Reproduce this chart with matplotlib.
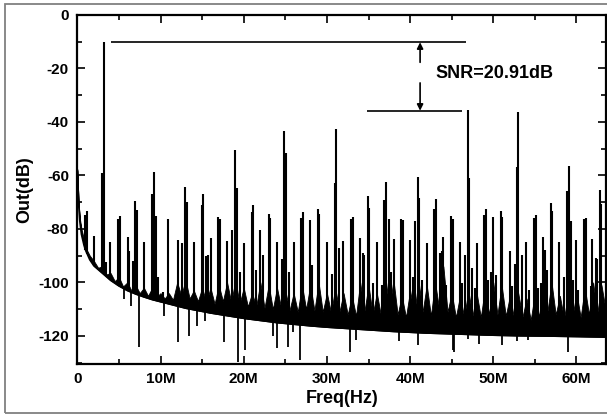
"""Output spectrum with SNR annotation."""
import numpy as np
import matplotlib; matplotlib.use("Agg")
import matplotlib.pyplot as plt
from matplotlib.patches import Rectangle
from matplotlib.ticker import MultipleLocator

plt.rcParams["font.family"] = ["Liberation Sans", "DejaVu Sans"]
plt.rcParams["font.weight"] = "bold"
plt.rcParams["axes.unicode_minus"] = False

# noise floor (MHz, dB)
FLOOR_F = [0, 0.15, 0.3, 0.5, 0.8, 1, 1.5, 2, 3, 4, 5, 6, 7, 8, 9, 10, 11, 12, 13, 14, 15,
           16, 18, 20, 22, 24, 26, 28, 30, 32, 34, 36, 38, 40, 42, 44, 46, 48, 50, 53, 56,
           60, 63.6]
FLOOR_DB = [-58, -70, -77, -82, -86, -88, -91.5, -93.8, -96.5, -99.2, -101.3, -103, -104.3,
            -105.4, -106.4, -107.2, -108, -108.8, -109.6, -110.2, -110.8, -111.4, -112.4,
            -113.4, -114.2, -115, -115.6, -116.2, -116.7, -117.1, -117.5, -117.9, -118.3,
            -118.6, -118.9, -119.1, -119.3, -119.5, -119.7, -119.9, -120, -120.2, -120.4]

# ragged top of the dense "grass" band (MHz, dB)
GRASS_F = [0, 0.15, 0.3, 0.5, 0.8, 1, 1.5, 2, 2.5, 3, 3.5, 4, 4.5, 5, 5.5, 6, 6.5, 7, 7.5,
           8, 8.5, 9, 9.5, 10, 10.5, 11, 11.5, 12, 12.5, 13, 13.5, 14, 14.5, 15, 15.5, 16,
           16.5, 17, 17.5, 18, 18.5, 19, 19.5, 20, 20.5, 21, 21.5, 22, 22.5, 23, 23.5, 24,
           24.5, 25, 25.5, 26, 26.5, 27, 27.5, 28, 28.5, 29, 29.5, 30, 30.5, 31, 31.5, 32,
           32.5, 33, 33.5, 34, 34.5, 35, 35.5, 36, 36.5, 37, 37.5, 38, 38.5, 39, 39.5, 40,
           40.5, 41, 41.5, 42, 42.5, 43, 43.5, 44, 44.5, 45, 45.5, 46, 46.5, 47, 47.5, 48,
           48.5, 49, 49.5, 50, 50.5, 51, 51.5, 52, 52.5, 53, 53.5, 54, 54.5, 55, 55.5, 56,
           56.5, 57, 57.5, 58, 58.5, 59, 59.5, 60, 60.5, 61, 61.5, 62, 62.5, 63, 63.6]
GRASS_DB = [-58, -70, -76, -80, -84, -87, -90, -92, -94.5, -94, -97, -96.5, -99.5, -98,
            -101.5, -100, -103, -101, -104, -102, -105, -102, -105.5, -104, -106, -104,
            -106.5, -100, -105, -99, -106, -103, -107, -102, -107.5, -102, -108, -101,
            -107, -100, -107.5, -99, -108, -102, -109, -104, -109, -100, -109.5, -101,
            -110, -102, -109.5, -103, -110.5, -104, -111, -101, -110, -101, -110.5, -100,
            -111, -104, -111.5, -102, -111, -104, -112, -105, -112.5, -100, -111, -101,
            -112, -104, -112.5, -97, -110, -99, -112, -105, -113, -103, -112, -99, -111,
            -101, -112.5, -100, -110, -94, -111, -104, -113, -105, -113, -103, -112.5,
            -104, -113, -102, -112, -100, -112, -101, -112.5, -105, -113.5, -104, -113,
            -106, -114, -104, -113, -99, -111, -100, -112, -105, -113.5, -104, -113, -104,
            -113, -102, -112, -100, -111.5, -101, -112]

# spurs rising above the floor (MHz, dB)
SPIKE_F = [0.97, 1.17, 2.05, 2.93, 3.17, 3.45, 3.97, 4.93, 5.17, 6.05, 6.25, 6.7, 6.9, 7.14,
           8.06, 8.98, 9.22, 9.46, 9.7, 10.3, 10.95, 12.06, 12.58, 12.94, 13.14, 14.03, 14.95,
           15.15, 15.47, 15.67, 16.07, 16.95, 17.15, 17.99, 18.59, 18.95, 19.15, 19.5, 20.0,
           20.96, 21.16, 21.5, 22.0, 22.3, 23.0, 23.2, 24.0, 24.6, 24.9, 25.1, 25.5, 26.0,
           26.89, 27.09, 27.97, 28.2, 28.89, 29.09, 30.01, 30.6, 30.95, 31.05, 31.42, 31.98,
           32.9, 33.1, 33.98, 34.3, 34.5, 34.9, 35.1, 35.5, 35.99, 36.6, 36.9, 37.1, 37.5,
           37.7, 38.03, 38.9, 39.1, 40.0, 40.3, 40.59, 40.91, 41.1, 41.4, 42.0, 42.84, 43.1,
           43.6, 43.78, 43.98, 44.3, 44.9, 45.1, 45.98, 46.2, 46.6, 46.9, 47.1, 47.4, 47.8,
           48.0, 48.9, 49.1, 49.4, 49.7, 50.0, 50.3, 50.9, 51.1, 52.0, 52.3, 52.6, 52.84,
           53.0, 53.4, 53.95, 54.3, 54.88, 55.08, 55.4, 55.7, 55.92, 56.2, 56.5, 56.9, 57.1,
           57.9, 58.5, 58.8, 59.1, 59.3, 59.6, 59.9, 60.2, 60.9, 61.1, 61.7, 61.9, 62.3,
           62.5, 62.8, 63.0]
SPIKE_DB = [-74.7, -73.4, -82.8, -59.1, -10.2, -92.2, -85.0, -76.3, -75.1, -83.0, -88.4, -92.0,
            -69.7, -73.0, -84.7, -66.9, -58.7, -75.3, -97.8, -103.4, -76.2, -84.0, -85.3, -64.3,
            -69.9, -85.0, -71.2, -66.9, -90.3, -89.7, -83.4, -75.6, -76.3, -84.4, -80.5, -50.3,
            -64.7, -96.0, -85.3, -73.8, -71.0, -95.3, -80.3, -89.7, -74.3, -76.0, -84.7, -91.3,
            -43.5, -51.6, -96.0, -85.0, -76.0, -73.8, -76.8, -93.4, -72.4, -74.4, -85.0, -96.9,
            -62.8, -42.6, -87.2, -84.4, -76.2, -75.6, -83.4, -89.0, -89.7, -67.8, -72.2, -100.3,
            -85.0, -100.9, -69.1, -62.6, -76.3, -96.0, -83.8, -76.3, -76.6, -84.0, -97.8, -76.9,
            -60.7, -68.4, -99.0, -85.3, -72.6, -68.8, -89.0, -88.2, -83.0, -101.0, -75.3, -76.3,
            -84.7, -100.3, -89.7, -35.5, -61.0, -94.6, -101.9, -85.3, -74.7, -72.4, -99.0, -96.0,
            -75.6, -97.1, -73.2, -75.6, -88.4, -101.5, -93.0, -56.8, -36.3, -89.7, -84.7, -103.0,
            -76.0, -74.7, -101.9, -100.3, -83.2, -87.8, -95.3, -70.3, -73.4, -85.0, -97.8, -66.0,
            -56.3, -77.2, -99.0, -84.3, -102.8, -76.2, -75.9, -101.5, -83.8, -90.9, -91.3, -65.6,
            -70.7]

# dips falling below the floor (MHz, dB)
DIP_F = [5.65, 6.4, 7.38, 10.46, 12.14, 13.46, 14.4, 15.35, 17.67, 19.27, 20.1, 23.56, 23.96,
         25.29, 25.89, 26.81, 32.78, 33.5, 38.7, 41.0, 45.1, 45.3, 46.9, 48.3, 51.0, 52.9,
         54.2, 59.0]
DIP_DB = [-106.3, -109, -124, -112.7, -122.1, -120.2, -116.2, -114.6, -122.1, -129.6, -125.2,
          -120.2, -124.6, -124, -118.4, -129, -125.9, -121.5, -122, -123.4, -125.2, -125.9,
          -121.2, -123, -123.4, -122, -121.5, -125.9]

X_TICKS = [0, 10, 20, 30, 40, 50, 60]
X_TICK_LABELS = ["0", "10M", "20M", "30M", "40M", "50M", "60M"]
Y_TICKS = [0, -20, -40, -60, -80, -100, -120]

# SNR marker levels
SNR_TOP, SNR_LOW = -10.2, -35.8
SNR_TEXT = "SNR=20.91dB"

fig = plt.figure(figsize=(6.07, 4.15), dpi=100)
ax = fig.add_axes([0.1274, 0.1229, 0.8710, 0.8410])

ax.fill_between(GRASS_F, np.interp(GRASS_F, FLOOR_F, FLOOR_DB), GRASS_DB, color="k", lw=0.6)
ax.plot(FLOOR_F, FLOOR_DB, color="k", lw=1.3)
base = np.interp(SPIKE_F, FLOOR_F, FLOOR_DB)
ax.vlines(SPIKE_F, base, SPIKE_DB, color="k", lw=1.5)
base = np.interp(DIP_F, FLOOR_F, FLOOR_DB)
ax.vlines(DIP_F, base, DIP_DB, color="k", lw=1.3)

# SNR annotation
ax.hlines(SNR_TOP, 4.1, 46.7, color="k", lw=1.2)
ax.hlines(SNR_LOW, 34.8, 46.2, color="k", lw=1.2)
arw = dict(arrowstyle="-|>", color="k", lw=1.2, mutation_scale=9, shrinkA=0, shrinkB=0)
ax.annotate("", xy=(41.2, SNR_TOP), xytext=(41.2, -17.7), arrowprops=arw)
ax.annotate("", xy=(41.2, SNR_LOW), xytext=(41.2, -25.4), arrowprops=arw)
ax.text(43.0, -22, SNR_TEXT, fontsize=13, fontweight="bold", va="center", ha="left")

ax.set_xlim(0, 63.55); ax.set_ylim(-130.5, 0)
ax.set_xticks(X_TICKS); ax.set_xticklabels(X_TICK_LABELS)
ax.set_yticks(Y_TICKS)
ax.xaxis.set_minor_locator(MultipleLocator(5))
ax.yaxis.set_minor_locator(MultipleLocator(10))
ax.tick_params(which="both", direction="in", top=True, right=True, width=1.2, labelsize=11, pad=6)
ax.tick_params(which="major", length=6)
ax.tick_params(which="minor", length=3.5)
for s in ax.spines.values():
    s.set_linewidth(1.6)
ax.set_xlabel("Freq(Hz)", fontsize=13, fontweight="bold", labelpad=3)
ax.set_ylabel("Out(dB)", fontsize=13, fontweight="bold", labelpad=4)

fig.add_artist(Rectangle((0.0082, 0.0048), 1.0, 0.9856, transform=fig.transFigure,
                         fill=False, ec="#808080", lw=1.3))

fig.savefig("out.png", dpi=100)
print("saved out.png")
